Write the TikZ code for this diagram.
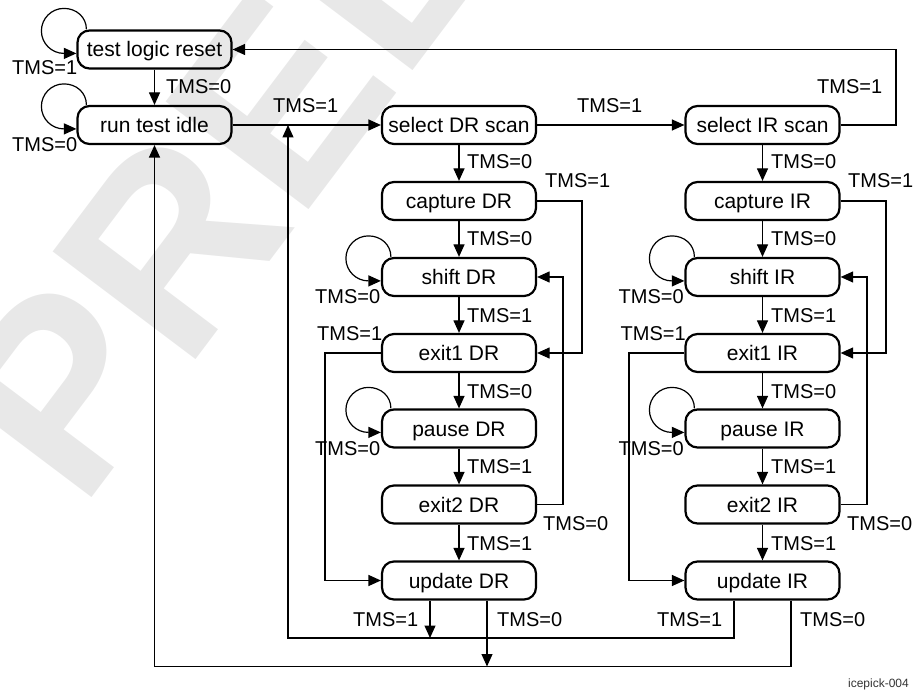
\documentclass[tikz,border=0pt]{standalone}
\usepackage{fontspec}
\setmainfont{Liberation Sans}
\usetikzlibrary{arrows.meta,calc}
\newcommand{\stloop}[1]{%
\draw[arr] ([xshift=10pt]#1.north west)
 .. controls ([shift={(10,-12.4)}]#1.north west) and ([shift={(-0.1,-21)}]#1.north west) .. ([shift={(-12.5,-21)}]#1.north west)
 .. controls ([shift={(-24.9,-21)}]#1.north west) and ([shift={(-35,-10.9)}]#1.north west) .. ([shift={(-35,1.5)}]#1.north west)
 .. controls ([shift={(-35,13.9)}]#1.north west) and ([shift={(-24.9,24)}]#1.north west) .. ([shift={(-12.5,24)}]#1.north west)
 -- ([yshift=-24pt]#1.north west);}
\begin{document}
\begin{tikzpicture}[x=1pt,y=-1pt,
  state/.style={draw, line width=2.2pt, rounded corners=12pt, minimum width=154pt, minimum height=38pt, inner sep=0pt,
     text height=15pt, text depth=0pt, font=\fontsize{21}{24}\selectfont},
  conn/.style={line width=1.2pt},
  arr/.style={conn,-{Triangle[length=12.5pt,width=11pt]}},
  lbl/.style={inner sep=0pt, anchor=west, font=\fontsize{20}{24}\selectfont}
]
\useasboundingbox (0,0) rectangle (915,692);
\begin{scope}
\clip (0,0) rectangle (915,692);
\node[rotate=53, anchor=base west, inner sep=0pt, text=black!9,
      font=\fontsize{260}{260}\selectfont\bfseries] (wm) at (81,512) {PREL};
\end{scope}

% states
\node[state] (tlr) at (154.5,49.5) {test logic reset};
\node[state] (rti) at (154.5,125) {run test idle};
\node[state] (sdr) at (459,125) {select DR scan};
\node[state] (cdr) at (459,201) {capture DR};
\node[state] (shdr) at (459,277) {shift DR};
\node[state] (edr) at (459,353) {exit1 DR};
\node[state] (pdr) at (459,428.5) {pause DR};
\node[state] (fdr) at (459,504.5) {exit2 DR};
\node[state] (udr) at (459,580.5) {update DR};
\node[state] (sir) at (762.5,125) {select IR scan};
\node[state] (cir) at (762.5,201) {capture IR};
\node[state] (shir) at (762.5,277) {shift IR};
\node[state] (eir) at (762.5,353) {exit1 IR};
\node[state] (pir) at (762.5,428.5) {pause IR};
\node[state] (fir) at (762.5,504.5) {exit2 IR};
\node[state] (uir) at (762.5,580.5) {update IR};
\coordinate (j1) at (288,125);

% self loops
\stloop{tlr}
\stloop{rti}
\stloop{shdr}
\stloop{pdr}
\stloop{shir}
\stloop{pir}

% top part
\draw[arr] (tlr) -- (rti);
\draw[arr] (rti) -- (sdr);
\draw[arr] (sdr) -- (sir);
\draw[arr] (sir.east) -- (896,125) -- (896,49.5) -- (tlr.east);

% DR column
\draw[arr] (sdr) -- (cdr);
\draw[arr] (cdr) -- (shdr);
\draw[arr] (shdr) -- (edr);
\draw[arr] (edr) -- (pdr);
\draw[arr] (pdr) -- (fdr);
\draw[arr] (fdr) -- (udr);
\draw[arr] (cdr.east) -- (582,201) -- (582,353) -- (edr.east);
\draw[arr] (fdr.east) -- (563,504.5) -- (563,277) -- (shdr.east);
\draw[arr] (edr.west) -- (325,353) -- (325,580.5) -- (udr.west);

% IR column
\draw[arr] (sir) -- (cir);
\draw[arr] (cir) -- (shir);
\draw[arr] (shir) -- (eir);
\draw[arr] (eir) -- (pir);
\draw[arr] (pir) -- (fir);
\draw[arr] (fir) -- (uir);
\draw[arr] (cir.east) -- (886,201) -- (886,353) -- (eir.east);
\draw[arr] (fir.east) -- (867,504.5) -- (867,277) -- (shir.east);
\draw[arr] (eir.west) -- (629,353) -- (629,580.5) -- (uir.west);

% bottom returns
\draw[arr] ([xshift=-29pt]udr.south) -- (430,638);
\draw[arr] ([xshift=28pt]udr.south) -- (487,666.5);
\draw[arr] ([xshift=-28.5pt]uir.south) -- (734,638) -- (288,638) -- (j1);
\draw[arr] ([xshift=28.5pt]uir.south) -- (791,666.5) -- (154.5,666.5) -- (rti.south);

% labels
\node[lbl] (l1) at (12,68) {TMS=1};
\node[lbl] (l2) at (12,145) {TMS=0};
\node[lbl] (l3) at (166,87) {TMS=0};
\node[lbl] (l4) at (273,106) {TMS=1};
\node[lbl] (l5) at (577,106) {TMS=1};
\node[lbl] (l6) at (817,87) {TMS=1};

\node[lbl] (d1) at (467,162) {TMS=0};
\node[lbl] (d2) at (467,239) {TMS=0};
\node[lbl] (d3) at (545,181) {TMS=1};
\node[lbl] (d4) at (315,297) {TMS=0};
\node[lbl] (d5) at (467,316) {TMS=1};
\node[lbl] (d6) at (317,334) {TMS=1};
\node[lbl] (d7) at (467,392) {TMS=0};
\node[lbl] (d8) at (315,449) {TMS=0};
\node[lbl] (d9) at (467,467) {TMS=1};
\node[lbl] (d10) at (543,524) {TMS=0};
\node[lbl] (d11) at (467,544) {TMS=1};
\node[lbl] (d12) at (353,620) {TMS=1};
\node[lbl] (d13) at (497,620) {TMS=0};

\node[lbl] (i1) at (771,162) {TMS=0};
\node[lbl] (i2) at (771,239) {TMS=0};
\node[lbl] (i3) at (848,181) {TMS=1};
\node[lbl] (i4) at (618.5,297) {TMS=0};
\node[lbl] (i5) at (771,316) {TMS=1};
\node[lbl] (i6) at (620.5,334) {TMS=1};
\node[lbl] (i7) at (771,392) {TMS=0};
\node[lbl] (i8) at (618.5,449) {TMS=0};
\node[lbl] (i9) at (771,467) {TMS=1};
\node[lbl] (i10) at (847,524) {TMS=0};
\node[lbl] (i11) at (771,544) {TMS=1};
\node[lbl] (i12) at (657,620) {TMS=1};
\node[lbl] (i13) at (800,620) {TMS=0};

\node[inner sep=0pt, anchor=east, text=black!80, font=\fontsize{12}{14}\selectfont] (fig) at (909,684) {icepick-004};
\end{tikzpicture}
\end{document}
